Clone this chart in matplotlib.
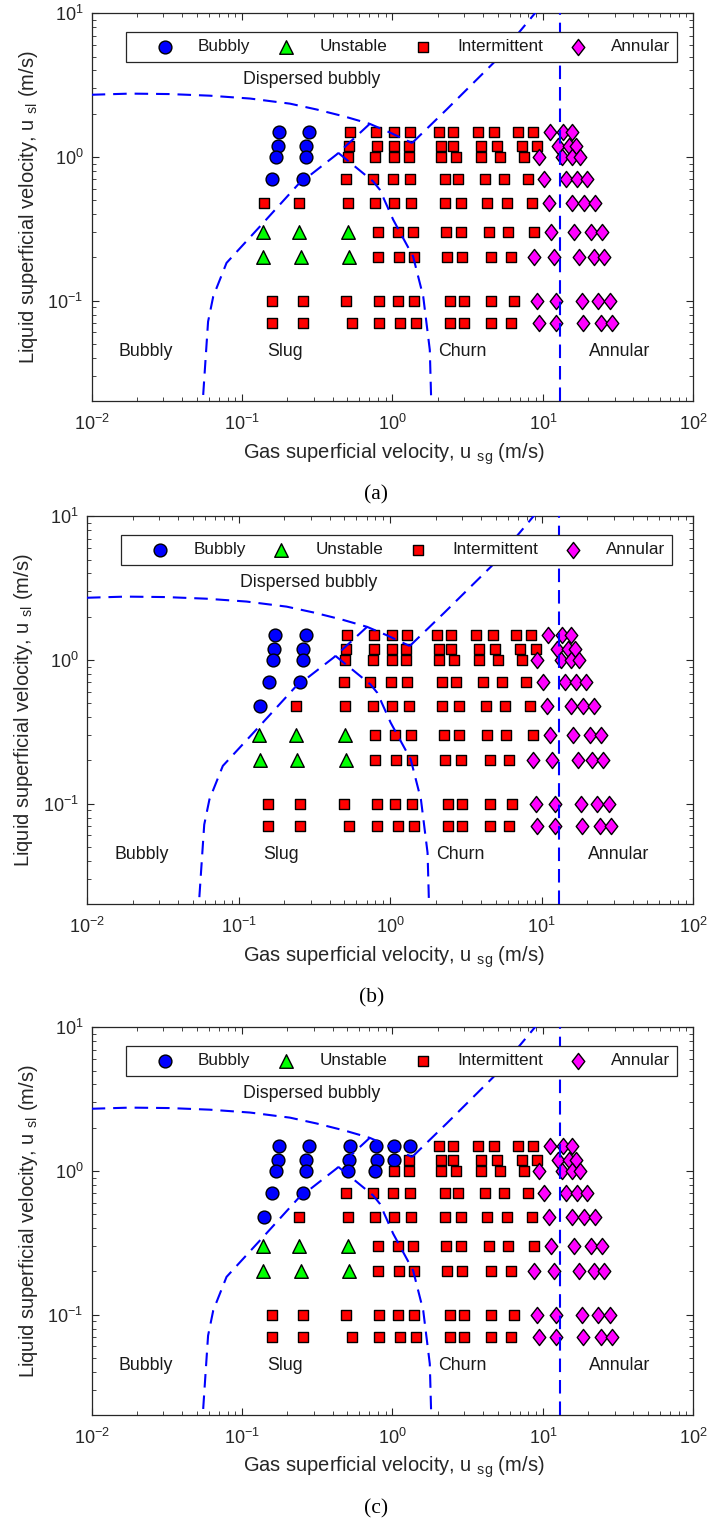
import numpy as np
import matplotlib
matplotlib.use("Agg")
from matplotlib import pyplot as plt
from matplotlib.patches import Rectangle
from matplotlib.path import Path

plt.rcParams['font.family'] = ['Liberation Sans', 'DejaVu Sans']
plt.rcParams['mathtext.fontset'] = 'custom'
plt.rcParams['mathtext.rm'] = 'Liberation Sans'
plt.rcParams['mathtext.it'] = 'Liberation Sans:italic'

# liquid superficial velocity of each test row (m/s)
ul_levels = [1.5, 1.2, 1.0, 0.7, 0.48, 0.3, 0.2, 0.1, 0.07]

# gas superficial velocity of each test point, one list per row (m/s)
ug_rows = [
    [0.175, 0.279, 0.522, 0.781, 1.03, 1.30, 2.04, 2.52, 3.69, 4.76, 6.80, 8.59, 11.1, 13.6, 15.6],
    [0.172, 0.268, 0.514, 0.785, 1.03, 1.28, 2.09, 2.52, 3.85, 4.96, 7.26, 9.14, 12.6, 15.0, 16.6],
    [0.168, 0.268, 0.507, 0.769, 1.03, 1.28, 2.09, 2.63, 3.85, 5.17, 7.45, 9.37, 13.4, 15.7, 17.7],
    [0.158, 0.255, 0.494, 0.739, 1.01, 1.30, 2.22, 2.73, 4.09, 5.51, 7.92, 10.2, 14.3, 16.9, 19.7],
    [0.139, 0.240, 0.504, 0.769, 1.03, 1.33, 2.22, 2.86, 4.28, 5.75, 8.46, 10.9, 15.6, 18.8, 22.3],
    [0.137, 0.240, 0.504, 0.801, 1.08, 1.37, 2.26, 2.86, 4.37, 5.87, 8.78, 11.3, 16.2, 21.0, 24.8],
    [0.138, 0.245, 0.514, 0.801, 1.10, 1.40, 2.31, 2.92, 4.55, 6.14, 8.78, 11.8, 17.3, 21.7, 25.4],
    [0.157, 0.256, 0.494, 0.818, 1.08, 1.40, 2.42, 2.99, 4.55, 6.40, 9.14, 12.3, 18.1, 23.3, 28.1],
    [0.157, 0.256, 0.536, 0.818, 1.13, 1.43, 2.42, 2.99, 4.55, 6.14, 9.37, 12.3, 18.4, 24.3, 28.7],
]

# observed regime per point: B bubbly, U unstable, I intermittent, A annular
regimes_a = [
    "BBIIIIIIIIIIAAA",
    "BBIIIIIIIIIIAAA",
    "BBIIIIIIIIIAAAA",
    "BBIIIIIIIIIAAAA",
    "IIIIIIIIIIIAAAA",
    "UUUIIIIIIIIAAAA",
    "UUUIIIIIIIAAAAA",
    "IIIIIIIIIIAAAAA",
    "IIIIIIIIIIAAAAA",
]
regimes_b = [
    "BBIIIIIIIIIIAAA",
    "BBIIIIIIIIIIAAA",
    "BBIIIIIIIIIAAAA",
    "BBIIIIIIIIIAAAA",
    "BIIIIIIIIIIAAAA",
    "UUUIIIIIIIIAAAA",
    "UUUIIIIIIIAAAAA",
    "IIIIIIIIIIAAAAA",
    "IIIIIIIIIIAAAAA",
]
regimes_c = [
    "BBBBBBIIIIIIAAA",
    "BBBBBIIIIIIIAAA",
    "BBBBIIIIIIIAAAA",
    "BBIIIIIIIIIAAAA",
    "BIIIIIIIIIIAAAA",
    "UUUIIIIIIIIAAAA",
    "UUUIIIIIIIAAAAA",
    "IIIIIIIIIIAAAAA",
    "IIIIIIIIIIAAAAA",
]

# transition boundaries of the flow pattern map
disp_ug = [0.01, 0.018, 0.033, 0.061, 0.113, 0.208, 0.313, 0.482, 0.706, 0.96, 1.35]
disp_ul = [2.71, 2.76, 2.74, 2.67, 2.55, 2.35, 2.14, 1.91, 1.70, 1.48, 1.25]
rise_ug = [1.35, 2.29, 4.70, 8.85, 10.6]
rise_ul = [1.25, 2.14, 4.52, 10.0, 12.5]
bs_ug = [0.706, 0.425, 0.235, 0.138, 0.0788, 0.0643, 0.0594, 0.0581, 0.0552, 0.0548]
bs_ul = [1.70, 1.04, 0.641, 0.347, 0.183, 0.107, 0.0714, 0.0506, 0.0226, 0.0195]
sc_ug = [0.435, 0.743, 0.824, 1.01, 1.37, 1.60, 1.77, 1.81]
sc_ul = [1.07, 0.676, 0.591, 0.366, 0.203, 0.107, 0.0454, 0.0195]
annular_ug = 13.0

region_names = ["Dispersed bubbly", "Bubbly", "Slug", "Churn", "Annular"]
region_ug = [0.29, 0.0229, 0.192, 2.91, 32.4]
region_ul = [3.46, 0.0442, 0.0442, 0.0442, 0.0442]

diamond = Path([(0, 1), (0.78, 0), (0, -1), (-0.78, 0), (0, 1)],
               [Path.MOVETO, Path.LINETO, Path.LINETO, Path.LINETO, Path.CLOSEPOLY])

styles = {
    'B': dict(marker='o', c='#0000ff', s=85, label='Bubbly'),
    'U': dict(marker='^', c='#00ff00', s=95, label='Unstable'),
    'I': dict(marker='s', c='#ff0000', s=52, label='Intermittent'),
    'A': dict(marker=diamond, c='#ff00ff', s=135, label='Annular'),
}

W, H = 709, 1522
fig = plt.figure(figsize=(W / 100, H / 100), dpi=100)

# axes boxes in pixels (left, top, right, bottom) and caption height
panels = [
    ('(a)', regimes_a, (91.7, 13.3, 693.3, 401.0), 495),
    ('(b)', regimes_b, (87.0, 516.3, 693.0, 904.0), 998),
    ('(c)', regimes_c, (91.7, 1027.3, 693.3, 1415.0), 1509),
]

ink = '#262626'
blue = '#0000ff'

for caption, regimes, (x0, y0, x1, y1), cap_y in panels:
    aw, ah = x1 - x0, y1 - y0
    ax = fig.add_axes([x0 / W, 1 - y1 / H, aw / W, ah / H])
    ax.set_xscale('log')
    ax.set_yscale('log')
    ax.set_xlim(1e-2, 1e2)
    ax.set_ylim(0.02, 10)

    for code, st in styles.items():
        xs, ys = [], []
        for ul, ugs, reg in zip(ul_levels, ug_rows, regimes):
            for ug, r in zip(ugs, reg):
                if r == code:
                    xs.append(ug)
                    ys.append(ul)
        ax.scatter(xs, ys, marker=st['marker'], c=st['c'], s=st['s'],
                   edgecolors='k', linewidths=1.0, zorder=2)

    for xs, ys in [(disp_ug, disp_ul), (rise_ug, rise_ul), (bs_ug, bs_ul), (sc_ug, sc_ul)]:
        ln, = ax.plot(xs, ys, color=blue, lw=1.5, zorder=3)
        ln.set_dashes((6.5, 3.8))
    ln = ax.axvline(annular_ug, color=blue, lw=1.5, zorder=3)
    ln.set_dashes((6.5, 3.8))

    for name, xg, yl in zip(region_names, region_ug, region_ul):
        ax.text(xg, yl, name, ha='center', va='center', fontsize=12.8, color='#1a1a1a')

    # legend box across the top of the axes (pixel layout, shifted with the axes)
    off = x0 - 91.7
    top = 1 - (31.7 - 13.3) / ah
    bot = 1 - (61.7 - 13.3) / ah
    ax.add_patch(Rectangle(((126 + off - x0) / aw, bot), (677 - 126) / aw, top - bot,
                           transform=ax.transAxes, facecolor='white', edgecolor=ink,
                           lw=0.9, zorder=5, clip_on=False))
    ymid = (top + bot) / 2
    for code, mx, tx in zip('BUIA', [165, 286, 423, 578], [198, 320, 457, 611]):
        st = styles[code]
        ax.scatter([(mx + off - x0) / aw], [ymid], marker=st['marker'], c=st['c'], s=st['s'],
                   edgecolors='k', linewidths=1.0, transform=ax.transAxes, zorder=6,
                   clip_on=False)
        ax.text((tx + off - x0) / aw, ymid, st['label'], transform=ax.transAxes,
                ha='left', va='center', fontsize=12.3, color='#1a1a1a', zorder=6)

    ax.tick_params(which='both', direction='in', top=True, right=True, colors=ink,
                   labelsize=13)
    ax.tick_params(which='major', length=5)
    ax.tick_params(which='minor', length=3)
    ax.tick_params(axis='x', pad=9)
    ax.tick_params(axis='y', pad=6)
    for sp in ax.spines.values():
        sp.set_color(ink)
        sp.set_linewidth(0.9)

    ax.set_xlabel(r'Gas superficial velocity, u $_{\mathregular{sg}}$ (m/s)',
                  fontsize=14.5, color=ink)
    ax.set_ylabel(r'Liquid superficial velocity, u $_{\mathregular{sl}}$ (m/s)',
                  fontsize=14.5, color=ink)
    ax.xaxis.set_label_coords((394 - x0) / aw, -(441 - 401) / ah)
    ax.xaxis.label.set_va('top')
    ax.yaxis.set_label_coords((40 + off - x0) / aw, 0.5)

    fig.text((376 + off) / W, 1 - cap_y / H, caption, ha='center', va='center',
             fontsize=15.5, family=['Liberation Serif', 'DejaVu Serif'], color='k')

fig.savefig('out.png', dpi=100)
